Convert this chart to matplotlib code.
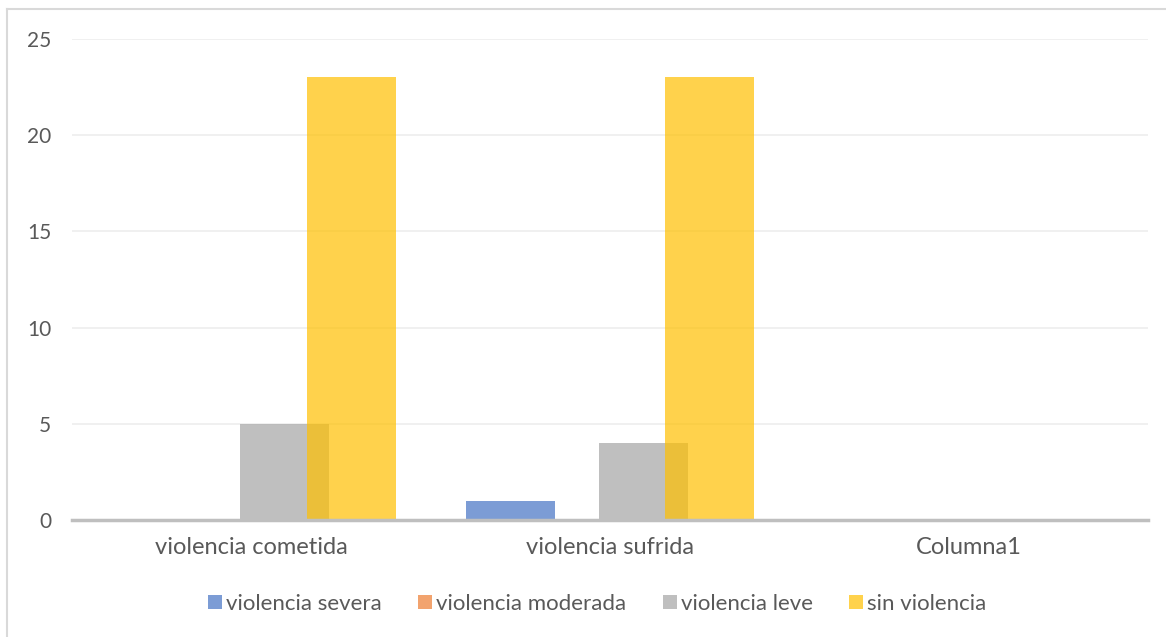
import matplotlib
matplotlib.use("Agg")
import matplotlib.pyplot as plt
from matplotlib.lines import Line2D
import numpy as np

plt.rcParams['font.family'] = ['Lato', 'DejaVu Sans']

categories = ["violencia cometida", "violencia sufrida", "Columna1"]
series_names = ["violencia severa", "violencia moderada", "violencia leve", "sin violencia"]
severa = [0, 1, 0]
moderada = [0, 0, 0]
leve = [5, 4, 0]
sin_violencia = [23, 23, 0]
series_values = [severa, moderada, leve, sin_violencia]
colors = ["#4472C4", "#ED7D31", "#A5A5A5", "#FFC000"]
yticks = [0, 5, 10, 15, 20, 25]

W, H = 1166, 637
fig = plt.figure(figsize=(W / 100, H / 100), dpi=100)
ax = fig.add_axes([72 / W, 1 - 520 / H, (1148 - 72) / W, (520 - 39) / H])

x = np.arange(len(categories))
width = 0.248
step = 0.1854
offsets = (np.arange(len(series_names)) - 1.5) * step
for vals, name, col, off in zip(series_values, series_names, colors, offsets):
    ax.bar(x + off, vals, width=width, color=col, alpha=0.7, label=name,
           zorder=3, linewidth=0)

ax.set_xlim(-0.5, len(categories) - 0.5)
ax.set_ylim(0, 25)
ax.set_yticks(yticks)
ax.set_yticklabels([str(t) for t in yticks])
ax.set_xticks(x)
ax.set_xticklabels(categories)
ax.grid(axis='y', color='#EEEEEE', linewidth=1.2, zorder=0)
for s in ['top', 'right', 'left']:
    ax.spines[s].set_visible(False)
ax.spines['bottom'].set_color('#BFBFBF')
ax.spines['bottom'].set_linewidth(2.5)
ax.spines['bottom'].set_zorder(4)
ax.tick_params(axis='both', length=0, colors='#595959')
ax.tick_params(axis='y', pad=15, labelsize=15)
ax.tick_params(axis='x', pad=12, labelsize=17)

handles = [Line2D([0], [0], marker='s', linestyle='none', markersize=10,
                  markerfacecolor=c, markeredgewidth=0, alpha=0.7) for c in colors]
leg = fig.legend(handles, series_names, loc='center', bbox_to_anchor=(597 / W, 1 - 604 / H),
                 ncol=4, frameon=False, fontsize=16, handletextpad=0.15,
                 columnspacing=1.6, handlelength=0.7, labelcolor='#595959')

# chart border
fig.add_artist(Line2D([7 / W, 7 / W], [0, 1 - 9 / H], color='#D9D9D9', linewidth=1.5))
fig.add_artist(Line2D([7 / W, 1], [1 - 9 / H, 1 - 9 / H], color='#D9D9D9', linewidth=1.5))

fig.savefig("out.png", dpi=100, facecolor='white')
